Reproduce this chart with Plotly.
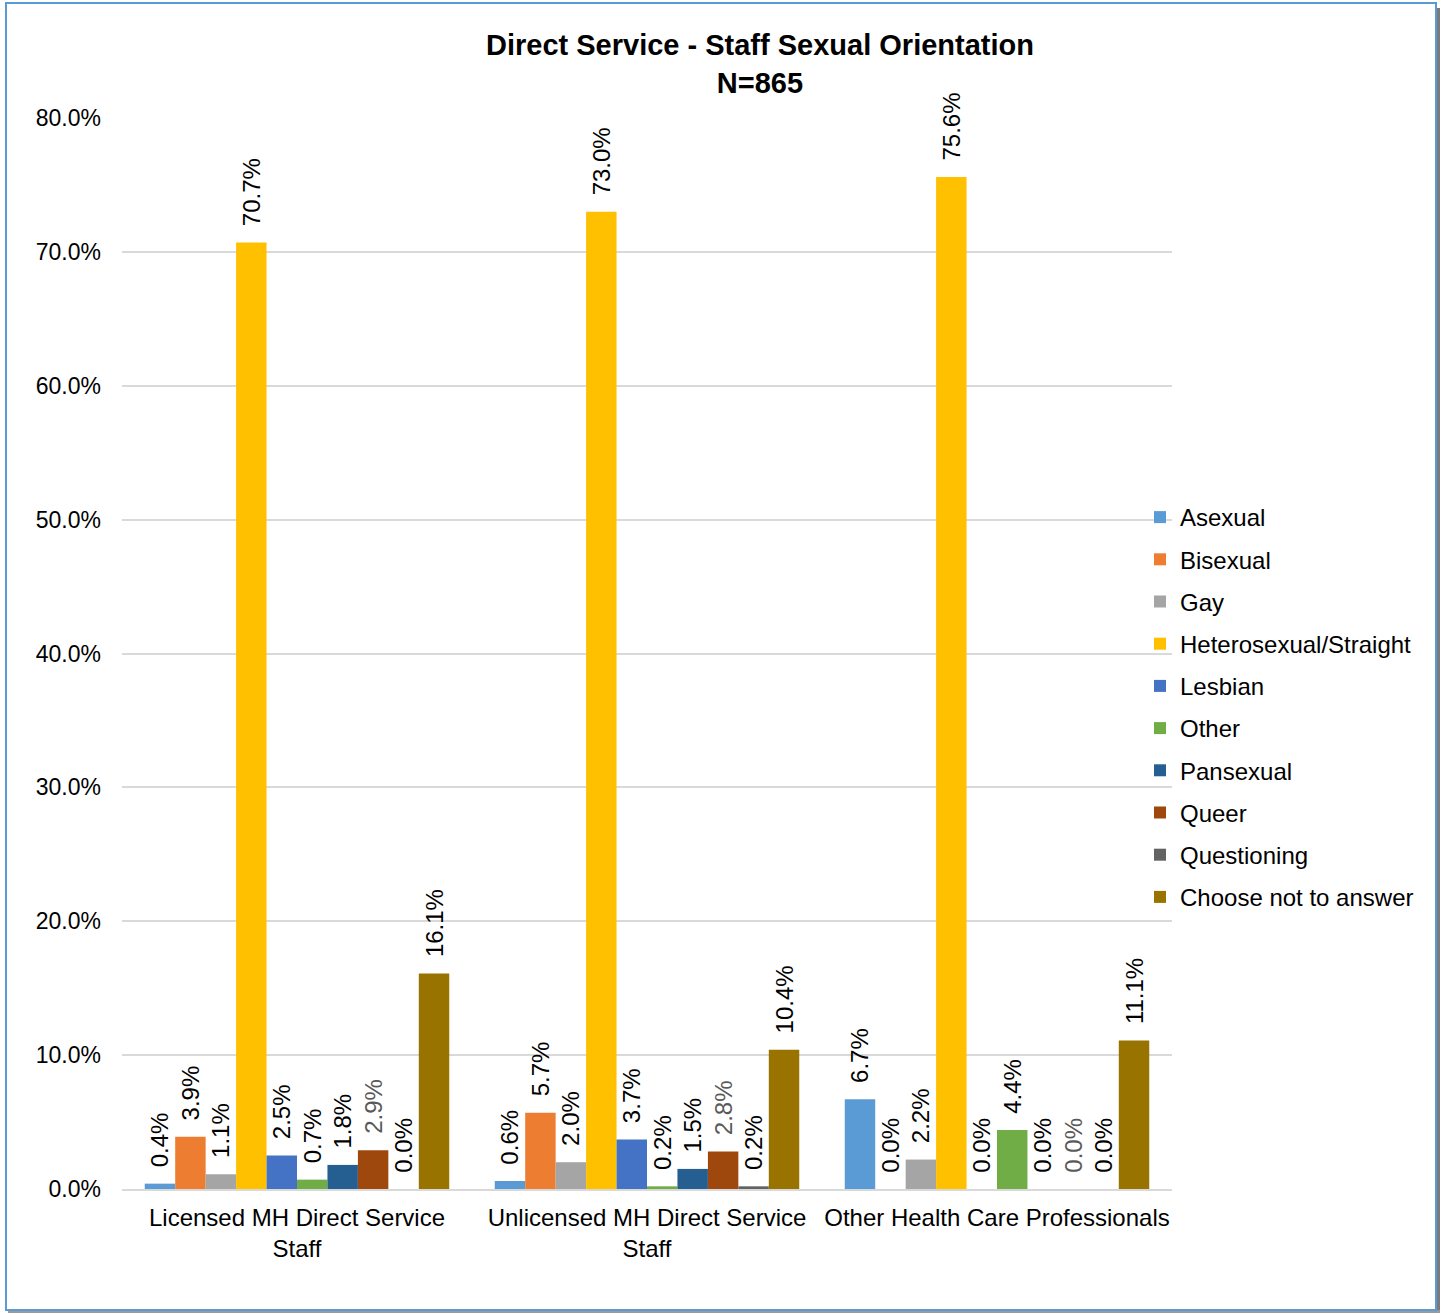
import plotly.graph_objects as go

categories = ["Licensed MH Direct Service<br>Staff", "Unlicensed MH Direct Service<br>Staff", "Other Health Care Professionals"]
series_names = ["Asexual", "Bisexual", "Gay", "Heterosexual/Straight", "Lesbian", "Other",
                "Pansexual", "Queer", "Questioning", "Choose not to answer"]
asexual = [0.4, 0.6, 6.7]
bisexual = [3.9, 5.7, 0.0]
gay = [1.1, 2.0, 2.2]
hetero = [70.7, 73.0, 75.6]
lesbian = [2.5, 3.7, 0.0]
other = [0.7, 0.2, 4.4]
pansexual = [1.8, 1.5, 0.0]
queer = [2.9, 2.8, 0.0]
questioning = [0.0, 0.2, 0.0]
choose_not = [16.1, 10.4, 11.1]
tick_vals = [0, 10, 20, 30, 40, 50, 60, 70, 80]
tick_text = ["0.0%", "10.0%", "20.0%", "30.0%", "40.0%", "50.0%", "60.0%", "70.0%", "80.0%"]

series_values = [asexual, bisexual, gay, hetero, lesbian, other, pansexual, queer, questioning, choose_not]
colors = ["#5B9BD5", "#ED7D31", "#A5A5A5", "#FFC000", "#4472C4", "#70AD47",
          "#255E91", "#9E480E", "#636363", "#997300"]
label_colors = ["#000000"] * 7 + ["#595959"] + ["#000000"] * 2

FONT = "Liberation Sans, Arial, sans-serif"
W, H = 1444, 1314
L, R, T, B = 122, 1172, 118, 1189

def px(x):
    return (x - L) / (R - L)

def py(y):
    return (B - y) / (B - T)

fig = go.Figure()
for i, (name, vals) in enumerate(zip(series_names, series_values)):
    fig.add_trace(go.Bar(
        name=name, x=categories, y=vals,
        marker=dict(color=colors[i], line=dict(width=0)),
        texttemplate="\u00a0\u00a0%{y:.1f}%", textposition="outside", textangle=-90,
        textfont=dict(family=FONT, size=24, color=label_colors[i]),
        constraintext="none", cliponaxis=False,
        legendgroup=name,
    ))

shapes = [
    dict(type="line", xref="paper", yref="paper", x0=px(1438.5), x1=px(1438.5), y0=py(8), y1=py(1312),
         line=dict(color="#7a7a7a", width=3)),
    dict(type="line", xref="paper", yref="paper", x0=px(8), x1=px(1440), y0=py(1311.5), y1=py(1311.5),
         line=dict(color="#9a9a9a", width=3)),
    dict(type="rect", xref="paper", yref="paper", x0=px(6), x1=px(1436), y0=py(3), y1=py(1310),
         line=dict(color="#5B9BD5", width=2)),
]

fig.update_layout(
    width=W, height=H,
    margin=dict(l=L, r=W - R, t=T, b=H - B),
    paper_bgcolor="white", plot_bgcolor="white",
    font=dict(family=FONT, size=24, color="#000000"),
    barmode="group", bargap=0.13, bargroupgap=0,
    title=dict(text="<b>Direct Service - Staff Sexual Orientation<br>N=865</b>",
               x=px(760), xref="paper", xanchor="center",
               y=1 - 55 / H, yref="container", yanchor="middle",
               font=dict(family=FONT, size=29, color="#000000")),
    legend=dict(x=px(1140), y=py(707), xanchor="left", yanchor="middle",
                font=dict(family=FONT, size=24, color="#000000"),
                tracegroupgap=8, bgcolor="rgba(0,0,0,0)"),
    shapes=shapes,
    showlegend=True,
)
fig.update_yaxes(range=[0, 80], tickvals=tick_vals, ticktext=tick_text,
                 showgrid=True, gridcolor="#D9D9D9", gridwidth=1.5,
                 zeroline=False, showline=False, ticklabelstandoff=20,
                 tickfont=dict(family=FONT, size=23, color="#000000"))
fig.update_xaxes(showline=True, linecolor="#D9D9D9", linewidth=1.5,
                 tickfont=dict(family=FONT, size=24, color="#000000"),
                 ticklabelstandoff=6)

fig.write_html("out.html", config={"displayModeBar": False},
               post_script="document.body.style.margin='0';document.body.style.overflow='hidden';")
